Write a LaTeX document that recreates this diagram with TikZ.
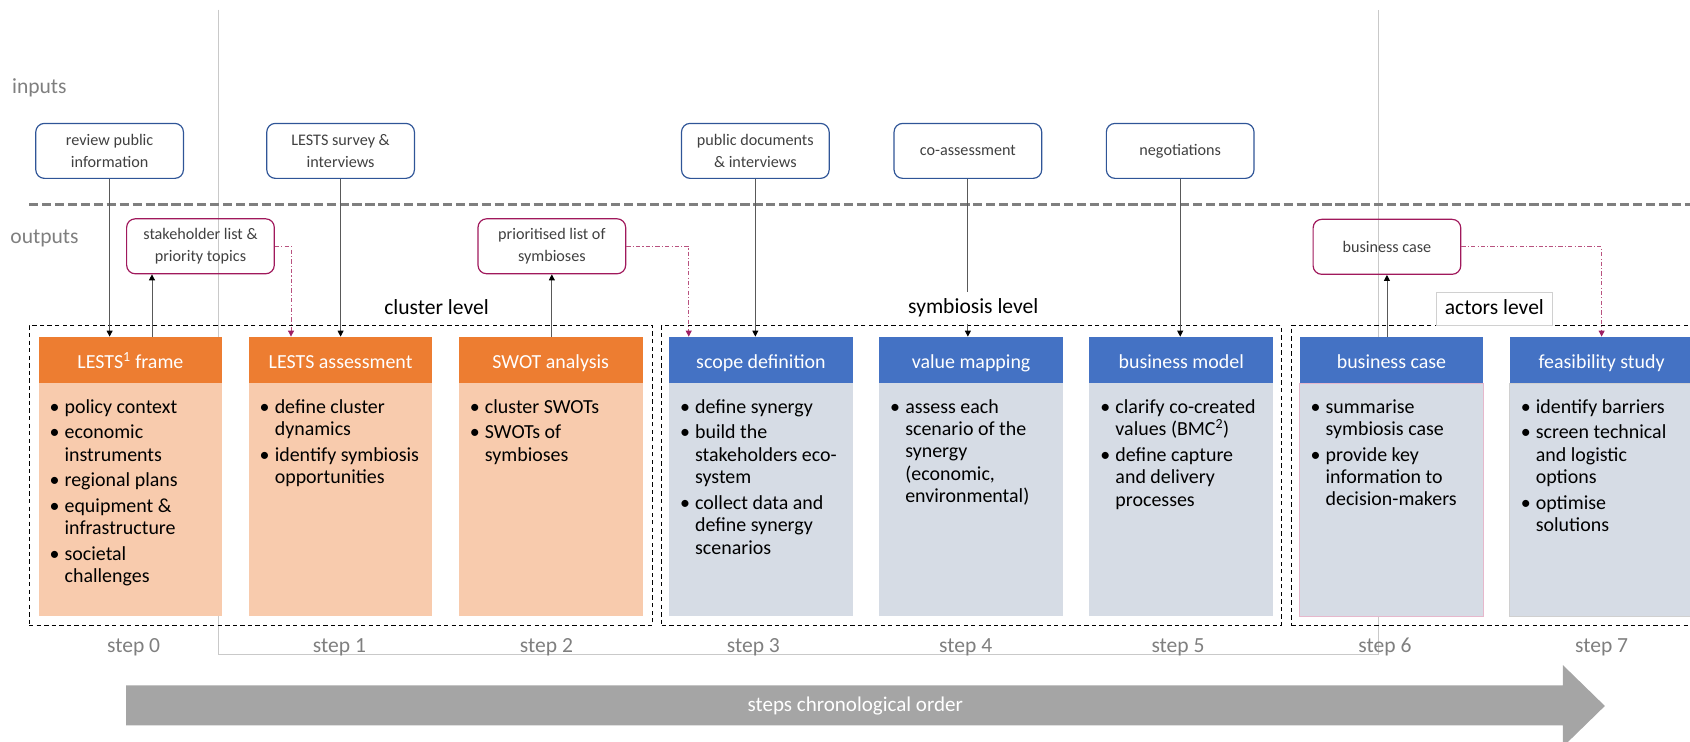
\documentclass[tikz,border=0pt]{standalone}
\usepackage{fontspec}
\setmainfont{Carlito}
\usetikzlibrary{arrows.meta}

\definecolor{hdOrange}{HTML}{ED7D31}
\definecolor{bdOrange}{HTML}{F8CBAD}
\definecolor{hdBlue}{HTML}{4472C4}
\definecolor{bdBlue}{HTML}{D6DCE5}
\definecolor{inEdge}{HTML}{2F5597}
\definecolor{outEdge}{HTML}{A0195C}
\definecolor{labelGray}{HTML}{7F7F7F}
\definecolor{boxText}{HTML}{404040}
\definecolor{barGray}{HTML}{A5A5A5}
\definecolor{frameGray}{HTML}{C9C9C9}
\definecolor{sepGray}{HTML}{7F7F7F}
\definecolor{linkGray}{HTML}{595959}
\definecolor{feedLine}{HTML}{B8527F}
\definecolor{feedTip}{HTML}{9E1F63}
\definecolor{lvlEdge}{HTML}{D0D0D0}
\definecolor{pinkEdge}{HTML}{E6B8CC}

% bullet cell of a step list
\newcommand{\bb}{\makebox[14pt][l]{\textbullet}}
% gap between two bullet items
\newcommand{\ig}{\\[3pt]}

\tikzset{
  iobox/.style={rounded corners=8pt, line width=1.1pt, minimum width=137pt,
    minimum height=51pt, align=center, text=boxText,
    font=\fontsize{15}{20}\selectfont, inner sep=2pt},
  inbox/.style={iobox, draw=inEdge},
  outbox/.style={iobox, draw=outEdge},
  head/.style={minimum width=170.5pt, minimum height=42.5pt, inner sep=0pt,
    text=white, font=\fontsize{18.5}{22}\selectfont, text height=20pt, text depth=4pt},
  headO/.style={head, fill=hdOrange},
  headB/.style={head, fill=hdBlue},
  body/.style={minimum width=170.5pt, minimum height=216pt, inner sep=0pt, anchor=north},
  bodyO/.style={body, fill=bdOrange},
  bodyB/.style={body, fill=bdBlue},
  items/.style={anchor=north west, inner sep=0pt, font=\fontsize{18.5}{20.8}\selectfont},
  grp/.style={draw=black, line width=1.1pt, dash pattern=on 4pt off 3pt},
  lvl/.style={inner sep=0pt, font=\fontsize{20}{24}\selectfont, text height=14pt, text depth=4pt},
  steplbl/.style={inner sep=0pt, text=labelGray, font=\fontsize{20}{24}\selectfont,
    text height=14pt, text depth=4pt},
  side/.style={inner sep=0pt, text=labelGray, font=\fontsize{20}{24}\selectfont},
  link/.style={draw=linkGray, line width=0.8pt,
    -{Triangle[length=5.5pt,width=5.5pt,color=black]}},
  feed/.style={draw=feedLine, line width=0.8pt, dash pattern=on 4pt off 2pt on 1pt off 2pt,
    -{Triangle[length=5.5pt,width=5.5pt,color=feedTip]}},
  framel/.style={draw=frameGray, line width=0.8pt},
  sepline/.style={draw=sepGray, line width=3pt, dash pattern=on 8.5pt off 3.5pt},
}

\begin{document}
\begin{tikzpicture}[x=1pt,y=-1pt]
\useasboundingbox (0,0) rectangle (1568,688);
\clip (0,0) rectangle (1568,688);

% thin frame behind steps 1 to 6
\draw[framel] (203,9) -- (203,607) -- (1279,607) -- (1279,9);

% separator between inputs and outputs
\draw[sepline] (27,190) -- (1568,190);
\node[side, anchor=base west] (inp) at (11,87) {inputs};
\node[side, anchor=base west] (outp) at (9.5,226) {outputs};

% level groups
\node[grp, minimum width=578.5pt, minimum height=278pt, inner sep=0pt] (gClu) at (316.25,441) {};
\node[grp, minimum width=575pt, minimum height=278pt, inner sep=0pt] (gSym) at (901.5,441) {};
\node[grp, minimum width=402pt, minimum height=278pt, inner sep=0pt] (gAct) at (1399,441) {};

% step headers and bodies
\node[headO] (h0) at (121,333.75) {LESTS\textsuperscript{1} frame};
\node[headO] (h1) at (316,333.75) {LESTS assessment};
\node[headO] (h2) at (511,333.75) {SWOT analysis};
\node[headB] (h3) at (706,333.75) {scope definition};
\node[headB] (h4) at (901,333.75) {value mapping};
\node[headB] (h5) at (1096,333.75) {business model};
\node[headB] (h6) at (1291,333.75) {business case};
\node[headB] (h7) at (1486,333.75) {feasibility study};

\node[bodyO] (b0) at (h0.south) {};
\node[bodyO] (b1) at (h1.south) {};
\node[bodyO] (b2) at (h2.south) {};
\node[bodyB] (b3) at (h3.south) {};
\node[bodyB] (b4) at (h4.south) {};
\node[bodyB] (b5) at (h5.south) {};
\node[bodyB, draw=pinkEdge, line width=0.6pt] (b6) at (h6.south) {};
\node[bodyB, draw=lvlEdge, line width=0.6pt] (b7) at (h7.south) {};

\node[items] (t0) at (45.75,368.5) {\begin{tabular}{@{}l@{}l@{}}
\bb & policy context\ig
\bb & economic\\ & instruments\ig
\bb & regional plans\ig
\bb & equipment \&\\ & infrastructure\ig
\bb & societal\\ & challenges
\end{tabular}};
\node[items] (t1) at (240.75,368.5) {\begin{tabular}{@{}l@{}l@{}}
\bb & define cluster\\ & dynamics\ig
\bb & identify symbiosis\\ & opportunities
\end{tabular}};
\node[items] (t2) at (435.75,368.5) {\begin{tabular}{@{}l@{}l@{}}
\bb & cluster SWOTs\ig
\bb & SWOTs of\\ & symbioses
\end{tabular}};
\node[items] (t3) at (630.75,368.5) {\begin{tabular}{@{}l@{}l@{}}
\bb & define synergy\ig
\bb & build the\\ & stakeholders eco-\\ & system\ig
\bb & collect data and\\ & define synergy\\ & scenarios
\end{tabular}};
\node[items] (t4) at (825.75,368.5) {\begin{tabular}{@{}l@{}l@{}}
\bb & assess each\\ & scenario of the\\ & synergy\\ & (economic,\\ & environmental)
\end{tabular}};
\node[items] (t5) at (1020.75,368.5) {\begin{tabular}{@{}l@{}l@{}}
\bb & clarify co-created\\ & values (BMC\textsuperscript{2})\ig
\bb & define capture\\ & and delivery\\ & processes
\end{tabular}};
\node[items] (t6) at (1215.75,368.5) {\begin{tabular}{@{}l@{}l@{}}
\bb & summarise\\ & symbiosis case\ig
\bb & provide key\\ & information to\\ & decision-makers
\end{tabular}};
\node[items] (t7) at (1410.75,368.5) {\begin{tabular}{@{}l@{}l@{}}
\bb & identify barriers\ig
\bb & screen technical\\ & and logistic\\ & options\ig
\bb & optimise\\ & solutions
\end{tabular}};

% inputs
\node[inbox] (in0) at (101.7,140) {review public\\information};
\node[inbox] (in1) at (316,140) {LESTS survey \&\\interviews};
\node[inbox] (in2) at (700.8,140) {public documents\\\& interviews};
\node[inbox] (in3) at (898,140) {co-assessment};
\node[inbox] (in4) at (1095,140) {negotiations};

% outputs
\node[outbox] (out0) at (186,228.5) {stakeholder list \&\\priority topics};
\node[outbox] (out1) at (512,228.5) {prioritised list of\\symbioses};
\node[outbox] (out2) at (1286.8,229) {business case};

% connectors
\draw[link] (in0.south) -- (in0.south |- h0.north);
\draw[link] ([xshift=20pt]h0.north) -- ([xshift=20pt]h0.north |- out0.south);
\draw[feed] (out0.east) -| ([xshift=-46pt]h1.north);
\draw[link] (in1.south) -- (in1.south |- h1.north);
\draw[link] (out1.south |- h2.north) -- (out1.south);
\draw[feed] (out1.east) -| ([xshift=-67pt]h3.north);
\draw[link] (in2.south) -- (in2.south |- h3.north);
\draw[link] (in3.south) -- (in3.south |- h4.north);
\draw[link] (in4.south) -- (in4.south |- h5.north);
\draw[link] (out2.south |- h6.north) -- (out2.south);
\draw[feed] (out2.east) -| (h7.north);

% level labels
\node[lvl] (lClu) at (405,287) {cluster level};
\node[lvl, fill=white, minimum width=138pt, minimum height=30pt] (lSym) at (903,286) {symbiosis level};
\node[lvl, draw=lvlEdge, line width=0.8pt, fill=white, minimum width=107pt, minimum height=31pt] (lAct) at (1386.5,286.5) {actors level};

% step numbers
\node[steplbl] (s0) at (124,600) {step 0};
\node[steplbl] (s1) at (315,600) {step 1};
\node[steplbl] (s2) at (507,600) {step 2};
\node[steplbl] (s3) at (699,600) {step 3};
\node[steplbl] (s4) at (896,600) {step 4};
\node[steplbl] (s5) at (1093,600) {step 5};
\node[steplbl] (s6) at (1285,600) {step 6};
\node[steplbl] (s7) at (1486,600) {step 7};

% chronological arrow
\fill[barGray] (117,636) -- (1450,636) -- (1450,617) -- (1489,655) -- (1450,693) -- (1450,673) -- (117,673) -- cycle;
\node[inner sep=0pt, text=white, font=\fontsize{19.5}{22}\selectfont, text height=14pt, text depth=4pt] (chrono) at (793.6,655) {steps chronological order};
\end{tikzpicture}
\end{document}
